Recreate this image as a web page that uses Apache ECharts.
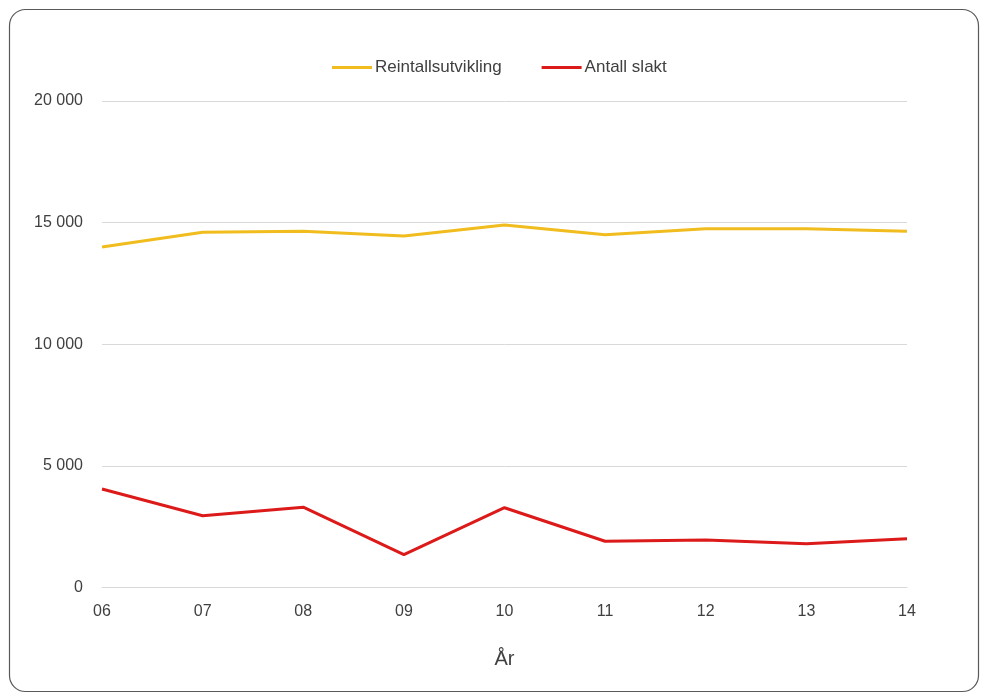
<!DOCTYPE html>
<html>
<head>
<meta charset="utf-8">
<script src="https://cdn.jsdelivr.net/npm/echarts@6/dist/echarts.min.js"></script>
<style>
  html, body { margin: 0; padding: 0; background: #fff; }
  #chart { width: 984px; height: 694px; }
</style>
</head>
<body>
<div id="chart"></div>
<script>
// år (x-axel)
const years = ['06', '07', '08', '09', '10', '11', '12', '13', '14'];
// reintallsutvikling
const reintall = [14000, 14600, 14650, 14450, 14900, 14500, 14750, 14750, 14650];
// antall slakt
const slakt = [4050, 2950, 3300, 1350, 3280, 1900, 1950, 1800, 2000];
const yTicks = [0, 5000, 10000, 15000, 20000];

const fmt = v => String(v).replace(/\B(?=(\d{3})+(?!\d))/g, ' ');
const font = 'Liberation Sans';

var myChart = echarts.init(document.getElementById('chart'));
var option = {
  backgroundColor: '#fff',
  textStyle: { fontFamily: font },
  graphic: [{
    type: 'rect',
    left: 7, top: 7,
    shape: { width: 969, height: 682, r: 16 },
    style: { fill: 'none', stroke: '#595959', lineWidth: 1.2 },
    silent: true
  }],
  legend: {
    top: 54,
    left: 327,
    itemWidth: 40,
    itemHeight: 3,
    itemGap: 40,
    icon: 'rect',
    textStyle: { color: '#404040', fontSize: 17, fontFamily: font, padding: [0, 0, 0, -2] },
    data: ['Reintallsutvikling', 'Antall slakt']
  },
  grid: { left: 102, right: 77, top: 101, bottom: 106.5 },
  xAxis: {
    type: 'category',
    boundaryGap: false,
    data: years,
    name: 'År',
    nameLocation: 'middle',
    nameGap: 62,
    nameTextStyle: { color: '#404040', fontSize: 20, fontFamily: font },
    axisLine: { lineStyle: { color: '#d9d9d9' } },
    axisTick: { show: false },
    axisLabel: { color: '#404040', fontSize: 16, margin: 16, fontFamily: font }
  },
  yAxis: {
    type: 'value',
    min: yTicks[0],
    max: yTicks[yTicks.length - 1],
    interval: 5000,
    axisLine: { show: false },
    axisTick: { show: false },
    splitLine: { lineStyle: { color: '#d9d9d9' } },
    axisLabel: { color: '#404040', fontSize: 16, margin: 19, fontFamily: font, formatter: fmt }
  },
  series: [
    {
      name: 'Reintallsutvikling',
      type: 'line',
      data: reintall,
      symbol: 'none',
      lineStyle: { width: 3, color: '#F0BC1E' },
      itemStyle: { color: '#F0BC1E' }
    },
    {
      name: 'Antall slakt',
      type: 'line',
      data: slakt,
      symbol: 'none',
      lineStyle: { width: 3, color: '#DC1A1A' },
      itemStyle: { color: '#DC1A1A' }
    }
  ]
};
option && myChart.setOption(option);
</script>
</body>
</html>
